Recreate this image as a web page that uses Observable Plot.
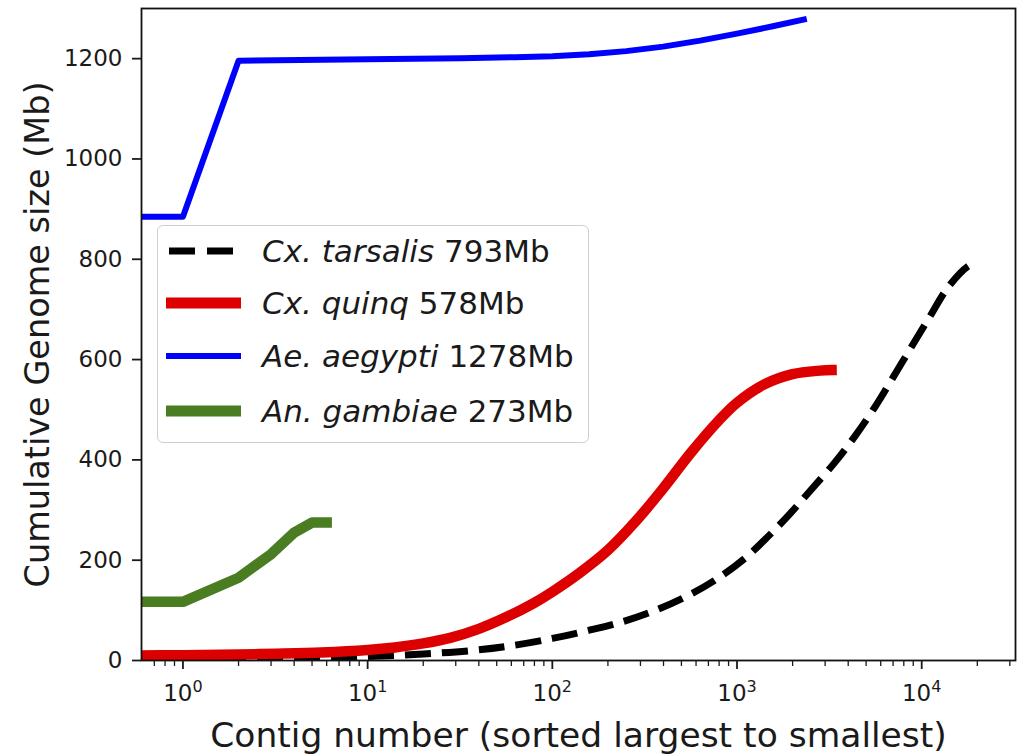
<!DOCTYPE html>
<html>
<head>
<meta charset="utf-8">
<script src="https://cdn.jsdelivr.net/npm/d3@7"></script>
<script src="https://cdn.jsdelivr.net/npm/@observablehq/plot@0.6"></script>
<style>
  html, body { margin: 0; padding: 0; background: #fff; }
  #wrap { position: relative; width: 1017px; height: 754px; font-family: "DejaVu Sans", sans-serif; }
  #legend { position: absolute; left: 157px; top: 225px; width: 432px; height: 218px;
    border: 1.5px solid #cfcfcf; border-radius: 6px; background: rgba(255,255,255,0.85); box-sizing: border-box; }
  .row { position: absolute; left: 0; height: 40px; display: flex; align-items: center; }
  .row svg { margin-left: 5px; }
  .row .lab { margin-left: 21px; font-size: 31px; color: #1a1a1a; white-space: nowrap; }
  .row .lab i { font-style: italic; }
</style>
</head>
<body>
<div id="wrap"></div>
<script>
// ---------------- data ----------------
const seriesNames = ["Cx. tarsalis", "Cx. quinq", "Ae. aegypti", "An. gambiae"];
const genusLabels = ["Cx.", "Cx.", "Ae.", "An."];
const speciesLabels = ["tarsalis", "quinq", "aegypti", "gambiae"];
const sizeLabels = ["793Mb", "578Mb", "1278Mb", "273Mb"];
const seriesColors = ["#000000", "#dd0000", "#0000ff", "#4a7d22"];

const tarsalisX = [1, 4.2, 10, 20, 37, 59, 100, 157, 238, 361, 546, 759, 1096, 1479, 1950, 2512, 3388, 4345, 5572, 6934, 8790, 11040, 13870, 17780, 19700];
const tarsalisY = [3, 5, 8, 13, 20, 29, 44, 60, 77, 100, 130, 160, 203, 248, 294, 340, 395, 447, 505, 562, 625, 685, 744, 786, 793];

const quinqX = [0.5, 1, 2, 3.2, 5.6, 10, 14, 20, 28, 40, 56, 79, 100, 141, 200, 282, 398, 562, 794, 1000, 1413, 1995, 2818, 3250];
const quinqY = [10, 10.5, 12, 13.5, 16, 21, 26, 34, 45, 63, 86, 114, 137, 175, 220, 277, 343, 414, 478, 514, 551, 571, 578, 579];

const aegyptiX = [0.5, 1, 2, 10, 32, 63, 100, 158, 251, 398, 631, 1000, 1585, 2300];
const aegyptiY = [885, 885, 1196, 1199, 1201, 1203, 1205, 1209, 1215, 1224, 1236, 1250, 1265, 1278];

const gambiaeX = [0.5, 1, 2, 3, 4, 5, 6];
const gambiaeY = [117, 117, 165, 212, 255, 275, 275];

const xMajorTicks = [1, 10, 100, 1000, 10000];
const xTickBase = "10";
const xTickExponents = ["0", "1", "2", "3", "4"];
const xMinorTicks = [0.7, 0.8, 0.9, 2, 3, 4, 5, 6, 7, 8, 9, 20, 30, 40, 50, 60, 70, 80, 90,
  200, 300, 400, 500, 600, 700, 800, 900, 2000, 3000, 4000, 5000, 6000, 7000, 8000, 9000, 20000, 30000];
const yTicks = [0, 200, 400, 600, 800, 1000, 1200];
const xLabel = "Contig number (sorted largest to smallest)";
const yLabel = "Cumulative Genome size (Mb)";

// ---------------- build ----------------
const toRows = (xs, ys) => xs.map((x, i) => ({x, y: ys[i]}));
const tarsalis = toRows(tarsalisX, tarsalisY);
const quinq = toRows(quinqX, quinqY);
const aegypti = toRows(aegyptiX, aegyptiY);
const gambiae = toRows(gambiaeX, gambiaeY);

const chart = Plot.plot({
  width: 1017,
  height: 754,
  marginLeft: 141,
  marginRight: 2,
  marginTop: 8,
  marginBottom: 94,
  style: {fontFamily: "DejaVu Sans", color: "#1a1a1a", background: "#fff"},
  x: {type: "log", domain: [0.5965, 32200]},
  y: {domain: [0, 1300]},
  marks: [
    Plot.line(tarsalis, {x: "x", y: "y", stroke: seriesColors[0], strokeWidth: 7, strokeDasharray: "26,11", strokeLinecap: "butt", strokeLinejoin: "round", curve: "catmull-rom", clip: true}),
    Plot.line(quinq, {x: "x", y: "y", stroke: seriesColors[1], strokeWidth: 10.5, strokeLinecap: "square", strokeLinejoin: "round", curve: "catmull-rom", clip: true}),
    Plot.line(aegypti, {x: "x", y: "y", stroke: seriesColors[2], strokeWidth: 6, strokeLinecap: "square", strokeLinejoin: "round", curve: "linear", clip: true}),
    Plot.line(gambiae, {x: "x", y: "y", stroke: seriesColors[3], strokeWidth: 10.5, strokeLinecap: "square", strokeLinejoin: "round", curve: "linear", clip: true}),
    Plot.frame({stroke: "#111", strokeWidth: 1.8}),
    Plot.axisY(yTicks, {tickSize: 9, tickPadding: 10, fontSize: 23, label: null, strokeWidth: 1.8, tickFormat: d => String(d)}),
    Plot.axisX(xMajorTicks, {tickSize: 9, tickPadding: 15, fontSize: 23, label: null, strokeWidth: 1.8,
      tickFormat: d => xTickBase + "^" + xTickExponents[xMajorTicks.indexOf(d)]}),
    Plot.axisX(xMinorTicks, {tickSize: 6, label: null, strokeWidth: 1.3, tickFormat: () => ""}),
    Plot.text([xLabel], {text: d => d, frameAnchor: "bottom", dy: 86, lineAnchor: "bottom", textAnchor: "middle", fontSize: 34.5, fill: "#1a1a1a"}),
    Plot.text([yLabel], {text: d => d, frameAnchor: "left", dx: -93, rotate: -90, lineAnchor: "bottom", textAnchor: "middle", fontSize: 33.5, fill: "#1a1a1a"})
  ]
});

// render x tick labels as 10 with a superscript exponent
d3.select(chart).selectAll("text").each(function() {
  const t = d3.select(this);
  const s = t.text();
  const m = /^10\^(\d)$/.exec(s);
  if (!m) return;
  t.text(xTickBase);
  t.append("tspan").attr("dy", "-8.5").attr("font-size", 16).text(m[1]);
});

const wrap = document.getElementById("wrap");
wrap.appendChild(chart);

// legend (overlay inside the plot area)
const legend = d3.select(wrap).append("div").attr("id", "legend");
const legendRowTops = [5, 57, 110, 165];
const legendStroke = [7, 11, 6, 11];
const legendDash = ["26,12", null, null, null];
seriesNames.forEach((name, i) => {
  const row = legend.append("div").attr("class", "row").style("top", legendRowTops[i] + "px");
  const svg = row.append("svg").attr("width", 78).attr("height", 20);
  const ln = svg.append("line").attr("x1", legendDash[i] ? 6 : 3).attr("x2", legendDash[i] ? 76 : 79)
    .attr("y1", 10).attr("y2", 10)
    .attr("stroke", seriesColors[i]).attr("stroke-width", legendStroke[i]);
  if (legendDash[i]) ln.attr("stroke-dasharray", legendDash[i]);
  const lab = row.append("span").attr("class", "lab");
  lab.append("i").text(genusLabels[i] + " " + speciesLabels[i]);
  lab.append("span").text(" " + sizeLabels[i]);
});
</script>
</body>
</html>
